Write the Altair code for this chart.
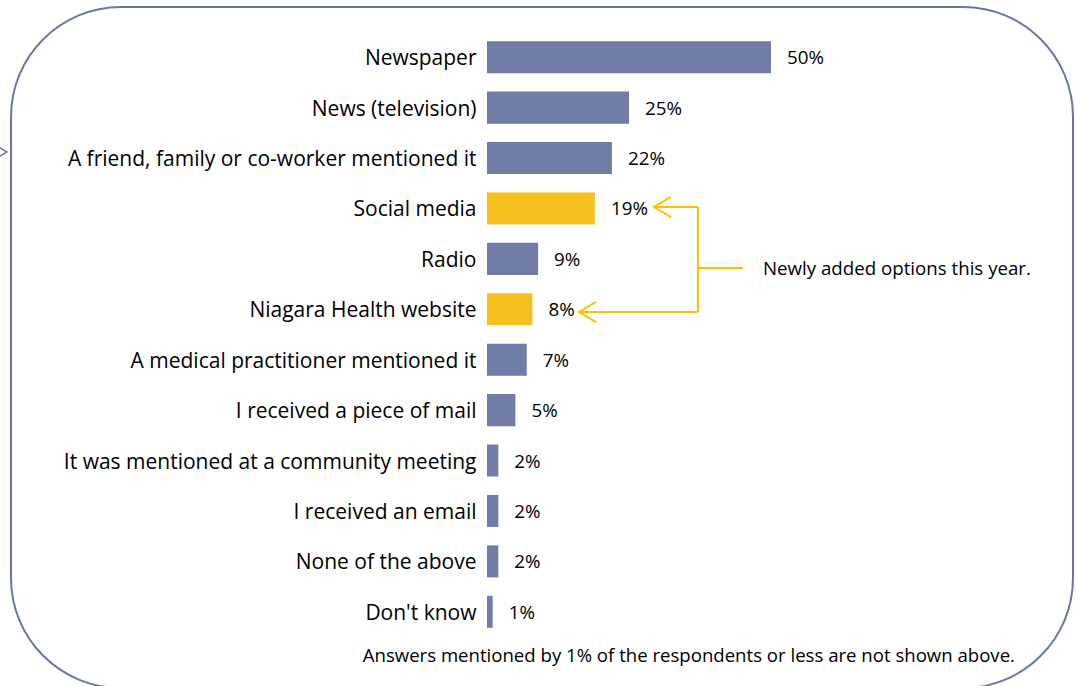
import altair as alt
import pandas as pd

categories = [
    "Newspaper",
    "News (television)",
    "A friend, family or co-worker mentioned it",
    "Social media",
    "Radio",
    "Niagara Health website",
    "A medical practitioner mentioned it",
    "I received a piece of mail",
    "It was mentioned at a community meeting",
    "I received an email",
    "None of the above",
    "Don't know",
]
values = [50, 25, 22, 19, 9, 8, 7, 5, 2, 2, 2, 1]
new_option = [False, False, False, True, False, True, False, False, False, False, False, False]
value_labels = [f"{v}%" for v in values]
annotation_text = "Newly added options this year."
footnote_text = "Answers mentioned by 1% of the respondents or less are not shown above."

df = pd.DataFrame({
    "category": categories,
    "value": values,
    "label": value_labels,
    "group": ["New" if n else "Existing" for n in new_option],
})

FONT = "Open Sans"
BAR = "#717DA7"
YEL_BAR = "#F6C11F"
YEL = "#FFC000"
BORDER = "#6A77A5"

W, H = 568, 605
PL, PT = 487, 32

ycat = alt.Y(
    "category:N",
    sort=categories,
    scale=alt.Scale(paddingInner=0.365, paddingOuter=0.1825),
    axis=alt.Axis(title=None, domain=False, ticks=False, labelFont=FONT,
                  labelFontSize=21, labelColor="#000000", labelPadding=11,
                  labelLimit=600, labelOffset=2),
)
xval = alt.X("value:Q", scale=alt.Scale(domain=[0, 100]), axis=None)

bars = alt.Chart(df).mark_bar().encode(
    y=ycat,
    x=xval,
    color=alt.Color("group:N", scale=alt.Scale(domain=["Existing", "New"], range=[BAR, YEL_BAR]), legend=None),
)

vals = alt.Chart(df).mark_text(align="left", baseline="middle", dx=16, dy=1,
                               font=FONT, fontSize=18.8, color="#000000").encode(
    y=alt.Y("category:N", sort=categories),
    x="value:Q",
    text="label:N",
)

one = pd.DataFrame({"a": [0]})

def px(x):
    return alt.value(x - PL)

def py(y):
    return alt.value(y - PT)

vline = alt.Chart(one).mark_rule(color=YEL, strokeWidth=2).encode(
    x=px(698), y=py(207), y2=py(312))
hline = alt.Chart(one).mark_rule(color=YEL, strokeWidth=2).encode(
    x=px(698), x2=px(743), y=py(268))
upline = alt.Chart(one).mark_rule(color=YEL, strokeWidth=2).encode(
    x=px(655), x2=px(698), y=py(207))
lowline = alt.Chart(one).mark_rule(color=YEL, strokeWidth=2).encode(
    x=px(580), x2=px(698), y=py(312))

arrow_shape = "M2,-1.2L0,0L2,1.2"
head_up = alt.Chart(one).mark_point(shape=arrow_shape, size=289, filled=False,
                                    stroke=YEL, strokeWidth=2, opacity=1).encode(
    x=px(654), y=py(207))
head_low = alt.Chart(one).mark_point(shape=arrow_shape, size=289, filled=False,
                                     stroke=YEL, strokeWidth=2, opacity=1).encode(
    x=px(579), y=py(312))

note = alt.Chart(one).mark_text(align="left", baseline="middle", font=FONT,
                                fontSize=18.7, color="#000000").encode(
    x=px(763), y=py(269), text=alt.value(annotation_text))

foot = alt.Chart(one).mark_text(align="right", baseline="middle", font=FONT,
                                fontSize=18.6, color="#000000").encode(
    x=px(1015), y=py(656), text=alt.value(footnote_text))

border = alt.Chart(one).mark_rect(filled=False, stroke=BORDER, strokeWidth=2,
                                  cornerRadius=110).encode(
    x=px(11), x2=px(1073), y=py(7), y2=py(688))

side_mark = alt.Chart(one).mark_point(shape="M-2,-1.2L0,0L-2,1.2", size=64, filled=False,
                                      stroke=BORDER, strokeWidth=1.5, opacity=1).encode(
    x=px(7), y=py(152))

chart = alt.layer(
    border, side_mark, bars, vals, vline, hline, upline, lowline, head_up, head_low, note, foot
).properties(
    width=W, height=H,
    autosize=alt.AutoSizeParams(type="none"),
    padding={"left": PL, "top": PT, "right": 1076 - PL - W, "bottom": 686 - PT - H},
    background="#FFFFFF",
).configure_view(strokeWidth=0)

chart.save("out.html", embed_options={"renderer": "svg", "actions": False})
